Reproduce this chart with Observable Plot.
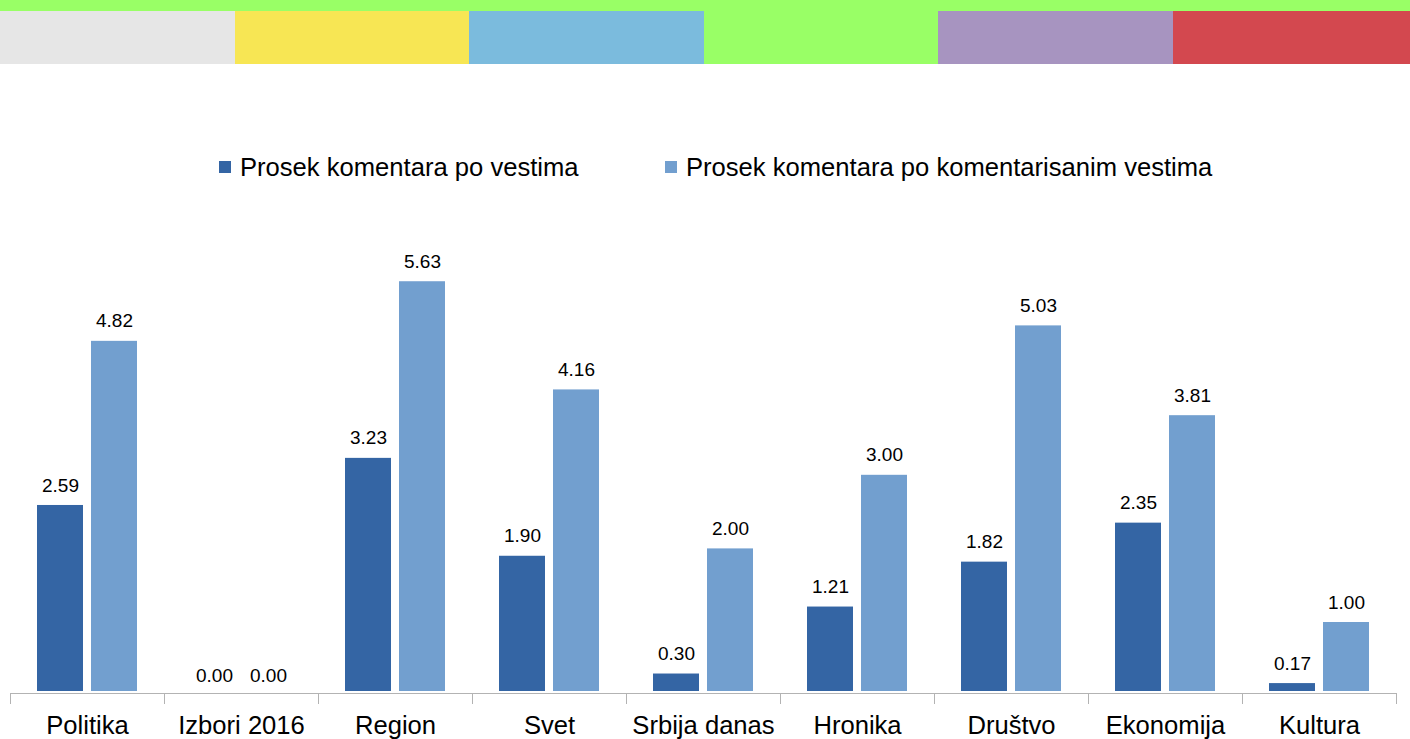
<!DOCTYPE html>
<html>
<head>
<meta charset="utf-8">
<script src="https://cdn.jsdelivr.net/npm/d3@7"></script>
<script src="https://cdn.jsdelivr.net/npm/@observablehq/plot@0.6"></script>
<style>
  html, body { margin: 0; padding: 0; background: #fff; }
  body { width: 1410px; height: 739px; overflow: hidden; font-family: "Liberation Sans", Arial, sans-serif; }
  #topstrip { height: 11px; background: #99ff66; }
  #blocks { display: flex; height: 53px; }
  #blocks div { flex: none; width: 234.5px; }
  #blocks div:last-child { flex: 1; }
  #legend { position: relative; height: 136px; }
  .item { position: absolute; top: 90px; height: 26px; display: flex; align-items: center; font-size: 25.6px; color: #000; white-space: nowrap; }
  .sw { width: 12px; height: 12px; margin-right: 9px; }
  #chart svg { display: block; overflow: visible; }
</style>
</head>
<body>
<div id="topstrip"></div>
<div id="blocks"></div>
<div id="legend"></div>
<div id="chart"></div>
<script>
// ---- data ----
const categories = ["Politika", "Izbori 2016", "Region", "Svet", "Srbija danas", "Hronika", "Društvo", "Ekonomija", "Kultura"];
const seriesNames = ["Prosek komentara po vestima", "Prosek komentara po komentarisanim vestima"];
const avgPerNews = [2.59, 0.00, 3.23, 1.90, 0.30, 1.21, 1.82, 2.35, 0.17];
const avgPerCommentedNews = [4.82, 0.00, 5.63, 4.16, 2.00, 3.00, 5.03, 3.81, 1.00];
const seriesColors = ["#3465a4", "#729fcf"];
const headerColors = ["#e6e6e6", "#f7e654", "#7bbbdd", "#99ff66", "#a794c0", "#d3484f"];

// ---- header decoration ----
const blocks = document.getElementById("blocks");
headerColors.forEach(c => { const d = document.createElement("div"); d.style.background = c; blocks.appendChild(d); });

// ---- legend ----
const legend = document.getElementById("legend");
const legendLeft = [219, 665];
seriesNames.forEach((s, i) => {
  const it = document.createElement("div");
  it.className = "item";
  it.style.left = legendLeft[i] + "px";
  const sw = document.createElement("span");
  sw.className = "sw";
  sw.style.background = seriesColors[i];
  it.appendChild(sw);
  it.appendChild(document.createTextNode(s));
  legend.appendChild(it);
});

// ---- table ----
const table = [];
categories.forEach((c, i) => {
  table.push({cat: c, series: seriesNames[0], value: avgPerNews[i]});
  table.push({cat: c, series: seriesNames[1], value: avgPerCommentedNews[i]});
});

const plot = Plot.plot({
  width: 1410,
  height: 539,
  marginLeft: 10,
  marginRight: 14,
  marginTop: 54,
  marginBottom: 43.4,
  style: {fontFamily: "Liberation Sans, Arial, sans-serif", color: "#000", background: "#fff", overflow: "visible"},
  fx: {domain: categories, padding: 0, label: null},
  x: {domain: seriesNames, paddingInner: 0.15, paddingOuter: 0.5, axis: null},
  y: {domain: [0, 6], axis: null},
  color: {domain: seriesNames, range: seriesColors},
  marks: [
    Plot.barY(table, {fx: "cat", x: "series", y: "value", fill: "series", insetBottom: 4.6}),
    Plot.ruleY([0], {dy: -2.6, stroke: "#b3b3b3", strokeWidth: 1}),
    Plot.text(table, {fx: "cat", x: "series", y: "value", text: d => d.value.toFixed(2), dy: -20, fontSize: 19, fill: "#000"}),
    Plot.axisFx({anchor: "bottom", tickSize: 0, tickPadding: 20, fontSize: 25.6, label: null, fill: "#000"})
  ]
});

document.getElementById("chart").appendChild(plot);

// boundary ticks at category edges, positioned from the library's scales
const fx = plot.scale("fx");
const y = plot.scale("y");
const y0 = y.apply(0) - 2.6;
const svg = d3.select(plot);
const edges = categories.map(c => fx.apply(c));
edges.push(fx.apply(categories[categories.length - 1]) + fx.bandwidth);
svg.append("g").attr("stroke", "#b3b3b3").attr("stroke-width", 1)
  .selectAll("line").data(edges).join("line")
  .attr("x1", d => Math.round(d) + 0.5).attr("x2", d => Math.round(d) + 0.5)
  .attr("y1", y0).attr("y2", y0 + 11);
</script>
</body>
</html>
